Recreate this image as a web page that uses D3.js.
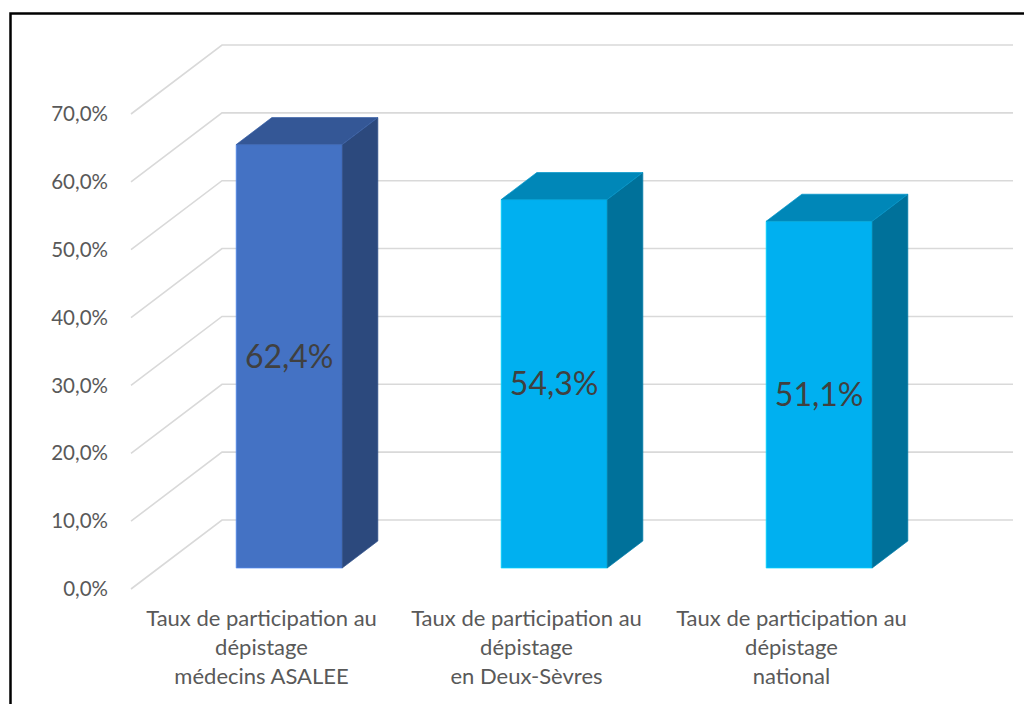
<!DOCTYPE html>
<html>
<head>
<meta charset="utf-8">
<script src="https://cdn.jsdelivr.net/npm/d3@7"></script>
<style>
  html, body { margin: 0; padding: 0; background: #fff; }
  svg { display: block; }
  text { font-family: Lato, "Noto Sans", sans-serif; }
</style>
</head>
<body>
<svg id="chart" width="1024" height="704"></svg>
<script>
// Participation au dépistage
const categories = [
  "Taux de participation au\ndépistage\nmédecins ASALEE",
  "Taux de participation au\ndépistage\nen Deux-Sèvres",
  "Taux de participation au\ndépistage\nnational"
];
const values = [62.4, 54.3, 51.1];
const barColors = ["#4472C4", "#00B0F0", "#00B0F0"];
const tickValues = [0, 10, 20, 30, 40, 50, 60, 70];

const fmtPct = v => d3.format(".1f")(v).replace(".", ",") + "%";

const svg = d3.select("#chart");

// Oblique projection of the 3D plot box: world x, depth t (0 front, 1 back), value v
const originX = 131, originY = 589;
const depthDX = 91, depthDY = 69;
const worldWidth = 791;

const x = d3.scaleBand().domain(categories).range([0, worldWidth])
  .paddingInner(0.6).paddingOuter(0.2925);
const y = d3.scaleLinear().domain([0, 70]).range([0, 475]);
const depth = d3.scaleLinear().domain([0, 1]).range([0, 1]);

function project(xw, t, v) {
  return [originX + xw + depth(t) * depthDX, originY - depth(t) * depthDY - y(v)];
}

// Chart frame
svg.append("path")
  .attr("d", "M10.5,704 V13.5 H1024")
  .attr("fill", "none").attr("stroke", "#000").attr("stroke-width", 2.5);

// Gridlines: side-wall diagonal then back wall
const grid = svg.append("g").attr("fill", "none").attr("stroke", "#D9D9D9").attr("stroke-width", 1.6);
tickValues.forEach(v => {
  const a = project(0, 0, v), b = project(0, 1, v), c = project(worldWidth, 1, v);
  grid.append("path").attr("d", d3.line()([a, b, c]));
});

// Value axis labels
svg.append("g").selectAll("text").data(tickValues).join("text")
  .attr("x", 108)
  .attr("y", d => project(0, 0, d)[1])
  .attr("dy", "0.35em")
  .attr("text-anchor", "end")
  .attr("font-size", 20.5)
  .attr("fill", "#595959")
  .text(fmtPct);

// 3D bars
const tFront = 0.304, tBack = 0.696;
const bars = svg.append("g");
values.forEach((v, i) => {
  const x0 = x(categories[i]), x1 = x0 + x.bandwidth();
  const base = d3.rgb(barColors[i]);
  const top = base.darker(0.75), side = base.darker(1.25);
  const g = bars.append("g").attr("stroke-width", 0.7).attr("stroke-linejoin", "round");
  const face = [project(x0, tFront, 0), project(x1, tFront, 0), project(x1, tFront, v), project(x0, tFront, v)];
  const right = [project(x1, tFront, 0), project(x1, tBack, 0), project(x1, tBack, v), project(x1, tFront, v)];
  const lid = [project(x0, tFront, v), project(x1, tFront, v), project(x1, tBack, v), project(x0, tBack, v)];
  g.append("path").attr("d", d3.line()(face) + "Z").attr("fill", base).attr("stroke", base.brighter(0.6));
  g.append("path").attr("d", d3.line()(right) + "Z").attr("fill", side).attr("stroke", side.brighter(0.3));
  g.append("path").attr("d", d3.line()(lid) + "Z").attr("fill", top).attr("stroke", top.brighter(0.3));

  // Data label centred on the front face
  const cx = (face[0][0] + face[1][0]) / 2;
  const cy = (face[0][1] + face[3][1]) / 2;
  svg.append("text")
    .attr("x", cx).attr("y", cy).attr("dy", "0.35em")
    .attr("text-anchor", "middle")
    .attr("font-size", 32)
    .attr("fill", "#404040")
    .text(fmtPct(v));
});

// Category labels along the front edge
const catG = svg.append("g");
categories.forEach(c => {
  const cx = project(x(c) + x.bandwidth() / 2, 0, 0)[0];
  const t = catG.append("text")
    .attr("text-anchor", "middle")
    .attr("font-size", 22)
    .attr("fill", "#595959");
  c.split("\n").forEach((line, k) => {
    t.append("tspan").attr("x", cx).attr("y", 626 + k * 29).text(line);
  });
});
</script>
</body>
</html>
